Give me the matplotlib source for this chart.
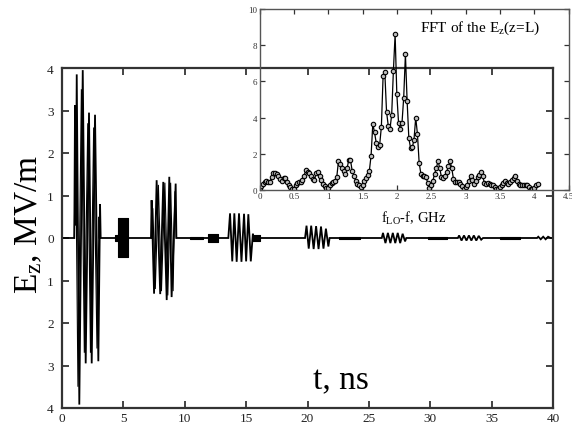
import matplotlib
matplotlib.use('Agg')
import matplotlib.pyplot as plt
from matplotlib.ticker import FormatStrFormatter

nan = float('nan')

# ---------------- data ----------------
# time signal E_z(t): vertices of the oscillating bursts (t in ns, E in MV/m)
sig_t = [0.0, 1.0, 1.06, 1.13, 1.2, 1.41, 1.69, 1.93, 2.2, 2.42, 2.69, 2.96, 3.1, 3.15,
         7.25, 7.3, 7.5, 7.71, 8.0, 8.25, 8.53, 8.74, 8.93, 9.26, 9.32,
         13.55, 13.69, 13.87, 14.04, 14.23, 14.42, 14.62, 14.83, 15.0, 15.18, 15.38, 15.55, 15.6,
         19.8, 19.92, 20.1, 20.3, 20.5, 20.7, 20.9, 21.1, 21.3, 21.5, 21.7, 21.8,
         26.05, 26.15, 26.35, 26.55, 26.75, 26.95, 27.15, 27.35, 27.55, 27.75, 27.95, 28.05,
         32.25, 32.35, 32.55, 32.75, 32.95, 33.15, 33.35, 33.55, 33.75, 33.95, 34.15, 34.3,
         38.7, 38.8, 39.0, 39.2, 39.4, 39.6, 39.8, 40.0]
sig_e = [0.0, 0.0, 3.12, 0.3, 3.85, -3.92, 3.95, -2.95, 2.95, -2.95, 2.9, -2.9, 0.8, 0.0,
         0.0, 0.89, -1.31, 1.36, -1.32, 1.32, -1.46, 1.44, -1.39, 1.28, 0.0,
         0.0, 0.58, -0.55, 0.58, -0.56, 0.58, -0.56, 0.57, -0.55, 0.56, -0.55, 0.1, 0.0,
         0.0, 0.29, -0.25, 0.29, -0.26, 0.28, -0.26, 0.27, -0.25, 0.22, -0.2, 0.0,
         0.0, 0.12, -0.12, 0.12, -0.12, 0.12, -0.12, 0.12, -0.12, 0.1, -0.08, 0.0,
         0.0, 0.06, -0.06, 0.06, -0.06, 0.06, -0.06, 0.06, -0.06, 0.05, -0.04, 0.0,
         0.0, 0.03, -0.03, 0.03, -0.03, 0.03, 0.0, 0.0]

# second (thin) trace visible inside the two strongest bursts
sig2_t = [1.0, 1.1, 1.3, 1.58, 1.82, 2.1, 2.32, 2.58, 2.85, 3.02, 3.05, nan,
          7.3, 7.4, 7.6, 7.85, 8.1, 8.38, 8.62, 8.85, 9.05, 9.2, 9.3]
sig2_e = [0.0, 2.6, -3.5, 3.5, -2.7, 2.7, -2.7, 2.6, -2.6, 0.5, 0.0, nan,
          0.0, 0.7, -1.2, 1.25, -1.25, 1.3, -1.35, 1.3, -1.25, 1.1, 0.0]

# dense (unresolved) high-frequency packets: start, end, upper and lower envelope
block_t0 = [4.32, 4.6, 10.4, 11.9, 15.58, 22.6, 29.8, 35.7]
block_t1 = [4.6, 5.4, 11.5, 12.7, 16.1, 24.3, 31.4, 37.3]
block_hi = [0.06, 0.48, 0.03, 0.09, 0.07, 0.025, 0.025, 0.02]
block_lo = [-0.06, -0.44, -0.03, -0.09, -0.07, -0.025, -0.025, -0.02]

# FFT spectrum (inset), frequency step 0.025 GHz
fft_step = 0.025
fft_amp = [0.1, 0.2, 0.33, 0.45, 0.5, 0.45, 0.42, 0.7, 0.94, 0.92,
           0.88, 0.8, 0.6, 0.5, 0.68, 0.65, 0.45, 0.3, 0.18, 0.05,
           0.08, 0.3, 0.4, 0.45, 0.45, 0.55, 0.8, 1.1, 1.0, 0.95,
           0.8, 0.6, 0.55, 0.95, 0.97, 0.8, 0.55, 0.35, 0.22, 0.1,
           0.12, 0.25, 0.38, 0.45, 0.5, 0.7, 1.6, 1.45, 1.2, 1.05,
           0.9, 1.2, 1.65, 1.65, 1.05, 0.8, 0.5, 0.35, 0.25, 0.15,
           0.25, 0.5, 0.65, 0.85, 1.07, 1.9, 3.65, 3.19, 2.6, 2.4,
           2.5, 3.5, 6.3, 6.5, 4.33, 3.55, 3.37, 4.16, 6.6, 8.6,
           5.3, 3.7, 3.37, 3.7, 5.1, 7.5, 4.9, 2.85, 2.32, 2.35,
           2.78, 4.0, 3.1, 1.5, 0.9, 0.8, 0.75, 0.7, 0.4, 0.1,
           0.3, 0.5, 0.9, 1.2, 1.6, 1.2, 0.7, 0.65, 0.75, 1.0,
           1.3, 1.6, 1.2, 0.6, 0.45, 0.45, 0.45, 0.35, 0.2, 0.05,
           0.15, 0.3, 0.5, 0.8, 0.55, 0.35, 0.5, 0.7, 0.85, 1.0,
           0.75, 0.4, 0.35, 0.38, 0.35, 0.3, 0.25, 0.15, 0.05, 0.05,
           0.15, 0.25, 0.4, 0.5, 0.4, 0.35, 0.45, 0.55, 0.65, 0.75,
           0.5, 0.35, 0.3, 0.3, 0.3, 0.28, 0.25, 0.15, 0.08, 0.05,
           0.1, 0.25, 0.35]
fft_freq = [i * fft_step for i in range(len(fft_amp))]

main_xticks = [0, 5, 10, 15, 20, 25, 30, 35, 40]
main_yticks = [-4, -3, -2, -1, 0, 1, 2, 3, 4]
main_yticklabels = ['4', '3', '2', '1', '0', '1', '2', '3', '4']
inset_xticks = [0, 0.5, 1, 1.5, 2, 2.5, 3, 3.5, 4, 4.5]
inset_yticks = [0, 2, 4, 6, 8, 10]

# ---------------- style ----------------
plt.rcParams['font.family'] = ['Liberation Serif', 'DejaVu Serif']
plt.rcParams['mathtext.fontset'] = 'custom'
plt.rcParams['mathtext.rm'] = 'Liberation Serif'
plt.rcParams['mathtext.it'] = 'Liberation Serif:italic'

fig = plt.figure(figsize=(5.72, 4.27), dpi=100)

# ---------------- main axes ----------------
ax = fig.add_axes([62 / 572, 18 / 427, 491 / 572, 340 / 427])
ax.plot(sig_t, sig_e, color='black', lw=1.3, solid_joinstyle='miter')
ax.plot(sig2_t, sig2_e, color='black', lw=0.8, solid_joinstyle='miter')
for t0, t1, hi, lo in zip(block_t0, block_t1, block_hi, block_lo):
    ax.fill_between([t0, t1], [lo, lo], [hi, hi], color='black', lw=0.8, edgecolor='black')
ax.set_xlim(0, 40)
ax.set_ylim(-4, 4)
ax.set_xticks(main_xticks)
ax.set_yticks(main_yticks)
ax.set_yticklabels(main_yticklabels)
ax.tick_params(direction='in', top=True, right=True, length=5, width=1.2,
               labelsize=9.5, colors='#222222')
ax.tick_params(axis='x', pad=3)
ax.tick_params(axis='y', pad=6)
for s in ax.spines.values():
    s.set_linewidth(1.6)
    s.set_color('#333333')
ax.set_ylabel(r'E$_{\rm z}$, MV/m', fontsize=24)
ax.yaxis.set_label_coords(-0.037, 0.544)
ax.text(22.7, -3.35, 't, ns', fontsize=24, ha='center', va='center')

# ---------------- inset ----------------
ins = fig.add_axes([259.5 / 572, 236 / 427, 309 / 572, 181 / 427])
ins.patch.set_alpha(0)
ins.plot(fft_freq, fft_amp, '-o', color='black', lw=0.9, ms=3.2,
         mfc='#bbbbbb', mec='black', mew=0.8)
ins.set_xlim(0, 4.5)
ins.set_ylim(0, 10)
ins.set_xticks(inset_xticks)
ins.set_yticks(inset_yticks)
ins.xaxis.set_major_formatter(FormatStrFormatter('%g'))
ins.yaxis.set_major_formatter(FormatStrFormatter('%g'))
ins.tick_params(direction='in', top=True, right=True, length=3.5, width=0.9,
                labelsize=6.5, colors='#333333', pad=1.5)
for s in ins.spines.values():
    s.set_linewidth(1.0)
    s.set_color('#555555')
ins.set_xlabel(r'f$_{\rm LO}$-f, GHz', fontsize=10.5, labelpad=6)
ins.text(0.908, 0.9, r'FFT of the E$_{\rm z}$(z=L)', transform=ins.transAxes,
         fontsize=11, ha='right', va='center')

fig.savefig('out.png', dpi=100)
